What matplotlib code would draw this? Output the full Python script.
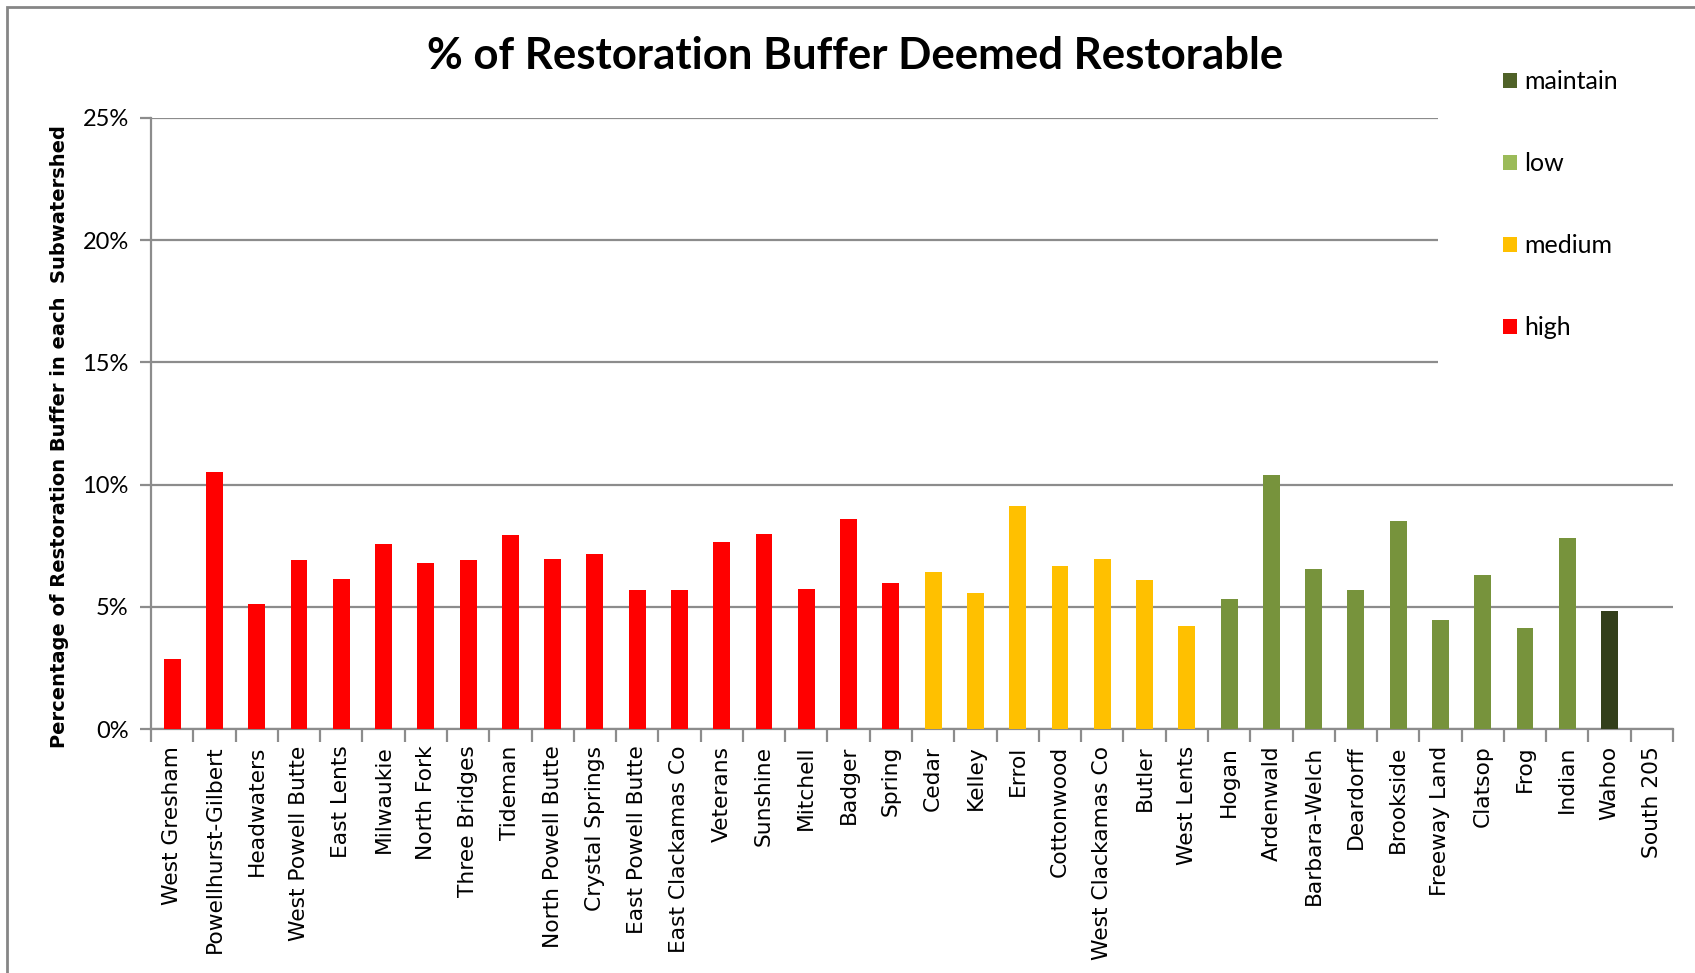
import matplotlib
matplotlib.use("Agg")
import matplotlib.pyplot as plt
from matplotlib.patches import Patch, Rectangle
from matplotlib.ticker import FixedLocator, FuncFormatter

# ---- data ----
names = ["West Gresham", "Powellhurst-Gilbert", "Headwaters", "West Powell Butte",
         "East Lents", "Milwaukie", "North Fork", "Three Bridges", "Tideman",
         "North Powell Butte", "Crystal Springs", "East Powell Butte",
         "East Clackamas Co", "Veterans", "Sunshine", "Mitchell", "Badger", "Spring",
         "Cedar", "Kelley", "Errol", "Cottonwood", "West Clackamas Co", "Butler",
         "West Lents", "Hogan", "Ardenwald", "Barbara-Welch", "Deardorff",
         "Brookside", "Freeway Land", "Clatsop", "Frog", "Indian", "Wahoo", "South 205"]
values = [2.87, 10.53, 5.12, 6.93, 6.15, 7.58, 6.80, 6.93, 7.95, 6.97, 7.17, 5.70,
          5.70, 7.66, 7.99, 5.74, 8.61, 5.98, 6.43, 5.57, 9.14, 6.68, 6.97, 6.11,
          4.22, 5.33, 10.41, 6.56, 5.70, 8.52, 4.47, 6.31, 4.14, 7.83, 4.84, 0.0]
levels = ["high"] * 18 + ["medium"] * 7 + ["low"] * 9 + ["maintain"] * 2

legend_order = ["maintain", "low", "medium", "high"]
bar_colors = {"high": "#FF0000", "medium": "#FFC000", "low": "#77933C", "maintain": "#333F1B"}
legend_colors = {"high": "#FF0000", "medium": "#FFC000", "low": "#9BBB59", "maintain": "#4F6228"}
yticks = [0, 5, 10, 15, 20, 25]

title = "% of Restoration Buffer Deemed Restorable"
ylabel = "Percentage of Restoration Buffer in each  Subwatershed"

# ---- figure ----
W, H = 1695, 973
fig = plt.figure(figsize=(W / 100, H / 100), dpi=100)
ax = fig.add_axes([151 / W, 1 - 729 / H, (1673 - 151) / W, (729 - 118) / H])

grid_col = "#8C8C8C"
x = list(range(len(names)))
for lev in legend_order:
    xs = [i for i in x if levels[i] == lev]
    vs = [values[i] for i in x if levels[i] == lev]
    ax.bar(xs, vs, width=0.4, color=bar_colors[lev], zorder=3)

ax.set_xlim(-0.5, len(names) - 0.5)
ax.set_ylim(0, 25)
ax.set_yticks(yticks)
ax.yaxis.set_major_formatter(FuncFormatter(lambda v, p: f"{v:.0f}%"))
ax.yaxis.grid(True, color=grid_col, linewidth=1.6, zorder=0)
ax.set_axisbelow(True)

ax.set_xticks(x)
ax.set_xticklabels(names, rotation=90, fontsize=15.7, family="DejaVu Sans")
ax.xaxis.set_minor_locator(FixedLocator([i - 0.5 for i in range(len(names) + 1)]))
ax.tick_params(axis="x", which="major", length=0, pad=12)
ax.tick_params(axis="x", which="minor", length=9, width=1.6, color=grid_col, direction="out")
ax.tick_params(axis="y", length=8, width=1.6, color=grid_col, pad=8)
for lab in ax.get_yticklabels():
    lab.set_fontfamily("Lato")
    lab.set_fontsize(17)

for s in ["top", "right"]:
    ax.spines[s].set_visible(False)
for s in ["left", "bottom"]:
    ax.spines[s].set_color(grid_col)
    ax.spines[s].set_linewidth(1.6)

fig.text(60 / W, 1 - 437 / H, ylabel, rotation=90, ha="center", va="center",
         fontsize=14, fontweight="bold", family="DejaVu Sans")
fig.text(855 / W, 1 - 56 / H, title, ha="center", va="center",
         fontsize=31.5, fontweight="bold", family="Lato")

handles = [Patch(facecolor=legend_colors[l], edgecolor="none") for l in legend_order]
leg = fig.legend(handles, legend_order, loc="upper left",
                 bbox_to_anchor=(1438 / W, 1 - 5 / H), frameon=True,
                 prop={"family": "Lato", "size": 18}, handlelength=0.56,
                 handleheight=0.56, handletextpad=0.3, labelspacing=2.36,
                 borderpad=2.6, borderaxespad=0)
leg.get_frame().set_facecolor("white")
leg.get_frame().set_edgecolor("none")
leg.get_frame().set_alpha(1)

# outer chart border
fig.patches.append(Rectangle((7 / W, -0.1), 1.2, 1 - 7 / H + 0.1, transform=fig.transFigure,
                             fill=False, edgecolor="#868686", linewidth=2, zorder=10))

fig.savefig("out.png", dpi=100, facecolor="white")
